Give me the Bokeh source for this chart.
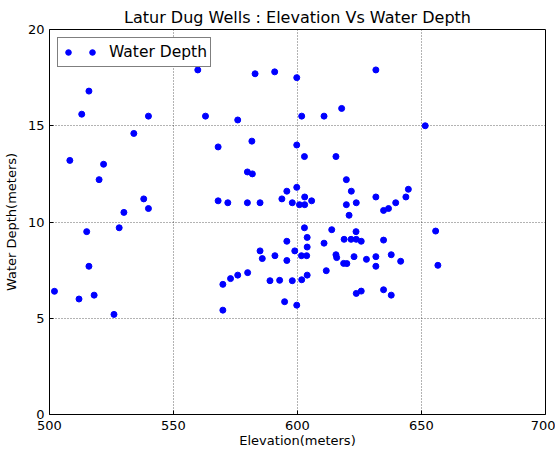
from bokeh.plotting import figure
from bokeh.models import Range1d, Legend, LegendItem, FixedTicker
from bokeh.embed import file_html
from bokeh.resources import INLINE

elevation = [559.8, 515.9, 513.0, 539.9, 562.9, 534.0, 508.2, 521.8, 520.0, 538.0,
             539.9, 530.0, 515.0, 528.1, 515.9, 502.0, 511.9, 518.0, 526.0, 582.9,
             590.8, 599.7, 631.6, 575.9, 601.7, 610.7, 617.8, 568.0, 581.6, 599.7,
             602.8, 615.5, 579.8, 581.8, 619.7, 621.7, 599.7, 595.7, 631.6, 568.0,
             571.9, 579.8, 584.9, 593.7, 597.9, 600.8, 602.9, 602.9, 605.7, 619.7,
             623.7, 620.8, 651.5, 634.7, 636.7, 639.6, 643.7, 644.7, 602.8, 613.8,
             623.6, 603.9, 595.7, 618.8, 621.6, 623.7, 625.7, 610.7, 603.9, 584.9,
             598.9, 585.8, 590.9, 595.7, 601.6, 603.7, 615.5, 615.8, 622.8, 627.8,
             631.6, 631.6, 618.6, 619.9, 611.6, 579.9, 575.9, 573.0, 569.9, 588.9,
             592.8, 597.9, 601.7, 603.9, 623.7, 625.7, 569.9, 594.8, 599.7, 655.7,
             634.7, 637.8, 641.6, 656.6, 634.7, 637.8]
water_depth = [17.9, 16.8, 15.6, 15.5, 15.5, 14.6, 13.2, 13.0, 12.2, 11.2,
               10.7, 10.5, 9.5, 9.7, 7.7, 6.4, 6.0, 6.2, 5.2, 17.7,
               17.8, 17.5, 17.9, 15.3, 15.5, 15.5, 15.9, 13.9, 14.2, 14.0,
               13.4, 13.4, 12.6, 12.5, 12.2, 11.6, 11.8, 11.6, 11.3, 11.1,
               11.0, 11.0, 11.0, 11.2, 11.0, 10.9, 11.3, 10.9, 11.1, 10.9,
               11.0, 10.35, 15.0, 10.6, 10.7, 11.0, 11.3, 11.7, 9.7, 9.6,
               9.5, 9.2, 9.0, 9.1, 9.1, 9.1, 9.0, 8.9, 8.7, 8.5,
               8.5, 8.1, 8.25, 8.0, 8.25, 8.25, 8.3, 8.15, 8.2, 8.06,
               8.2, 7.7, 7.85, 7.84, 7.47, 7.37, 7.24, 7.06, 6.76, 6.95,
               6.97, 6.95, 7.0, 7.24, 6.29, 6.41, 5.42, 5.86, 5.68, 9.53,
               9.06, 8.3, 7.96, 7.75, 6.48, 6.2]
x_ticks = [500, 550, 600, 650, 700]
y_ticks = [0, 5, 10, 15, 20]

FONT = "DejaVu Sans"

p = figure(width=555, height=452, output_backend="svg", toolbar_location=None,
           x_range=Range1d(500, 700), y_range=Range1d(0, 20),
           min_border_left=48, min_border_right=10, min_border_top=29, min_border_bottom=38,
           title="Latur Dug Wells : Elevation Vs Water Depth")

p.title.text_font = FONT
p.title.text_font_size = "16px"
p.title.text_font_style = "normal"
p.title.align = "center"
p.title.standoff = 6
p.title.text_color = "black"

r = p.scatter(elevation, water_depth, size=6, line_width=1,
              fill_color="#0000ff", line_color="#0000ff")

p.outline_line_color = "black"
p.outline_line_width = 1
p.background_fill_color = "white"
p.border_fill_color = "white"

for ax in (p.xaxis[0], p.yaxis[0]):
    ax.axis_line_color = None
    ax.major_tick_in = 4
    ax.major_tick_out = 0
    ax.minor_tick_line_color = None
    ax.major_label_text_font = FONT
    ax.major_label_text_font_size = "13px"
    ax.major_label_text_color = "black"
    ax.axis_label_text_font = FONT
    ax.axis_label_text_font_size = "13px"
    ax.axis_label_text_font_style = "normal"
    ax.axis_label_text_color = "black"
    ax.major_tick_line_color = "black"

p.xaxis[0].ticker = FixedTicker(ticks=x_ticks)
p.yaxis[0].ticker = FixedTicker(ticks=y_ticks)
p.xaxis[0].axis_label = "Elevation(meters)"
p.yaxis[0].axis_label = "Water Depth(meters)"
p.xaxis[0].major_label_standoff = 6
p.xaxis[0].axis_label_standoff = 0
p.yaxis[0].major_label_standoff = 5
p.yaxis[0].axis_label_standoff = 6

for gr, t in ((p.xgrid[0], x_ticks), (p.ygrid[0], y_ticks)):
    gr.ticker = FixedTicker(ticks=t)
    gr.grid_line_color = "black"
    gr.grid_line_alpha = 0.6
    gr.grid_line_dash = "1 2"
    gr.grid_line_width = 1

legend = Legend(items=[LegendItem(label="", renderers=[r]),
                       LegendItem(label="Water Depth", renderers=[r])],
                location="top_left", orientation="horizontal",
                margin=8, padding=3, spacing=0, label_standoff=10,
                glyph_width=14, glyph_height=22, label_width=0, label_height=22,
                label_text_font=FONT, label_text_font_size="15.5px",
                label_text_color="black",
                border_line_color="black", border_line_width=1,
                background_fill_color="white", background_fill_alpha=1)
p.add_layout(legend, "center")

open("out.html", "w").write(file_html(p, INLINE))
